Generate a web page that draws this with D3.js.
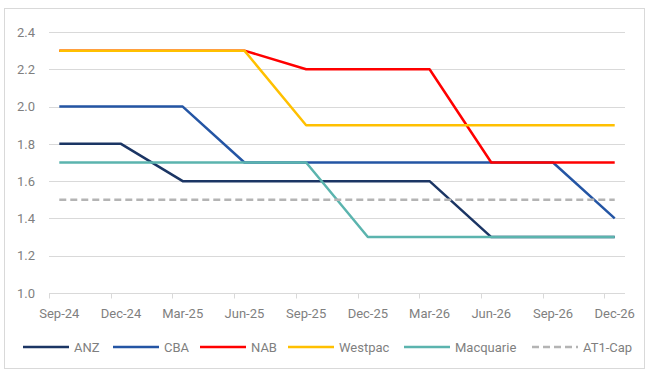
<!DOCTYPE html>
<html>
<head>
<meta charset="utf-8">
<script src="https://cdn.jsdelivr.net/npm/d3@7"></script>
<style>
body { margin: 0; background: #fff; }
text { font-family: Roboto, "Liberation Sans", sans-serif; }
</style>
</head>
<body>
<div id="chart-area"></div>
<script>
// quarterly data points
let quarters = ["Sep-24", "Dec-24", "Mar-25", "Jun-25", "Sep-25", "Dec-25", "Mar-26", "Jun-26", "Sep-26", "Dec-26"];
let anz = [1.8, 1.8, 1.6, 1.6, 1.6, 1.6, 1.6, 1.3, 1.3, 1.3];
let cba = [2.0, 2.0, 2.0, 1.7, 1.7, 1.7, 1.7, 1.7, 1.7, 1.4];
let nab = [2.3, 2.3, 2.3, 2.3, 2.2, 2.2, 2.2, 1.7, 1.7, 1.7];
let westpac = [2.3, 2.3, 2.3, 2.3, 1.9, 1.9, 1.9, 1.9, 1.9, 1.9];
let macquarie = [1.7, 1.7, 1.7, 1.7, 1.7, 1.3, 1.3, 1.3, 1.3, 1.3];
let at1Cap = [1.5, 1.5, 1.5, 1.5, 1.5, 1.5, 1.5, 1.5, 1.5, 1.5];
let yTicks = [1.0, 1.2, 1.4, 1.6, 1.8, 2.0, 2.2, 2.4];

let series = [
	{name: "ANZ", values: anz, color: "#1b3564", dash: null},
	{name: "CBA", values: cba, color: "#2455a4", dash: null},
	{name: "NAB", values: nab, color: "#ff0000", dash: null},
	{name: "Westpac", values: westpac, color: "#ffc000", dash: null},
	{name: "Macquarie", values: macquarie, color: "#5bb4ae", dash: null},
	{name: "AT1-Cap", values: at1Cap, color: "#b4b4b4", dash: "7,4"}
];

let W = 660, H = 377;
let svg = d3.select("#chart-area").append("svg")
	.attr("width", W)
	.attr("height", H);

// chart border
svg.append("rect")
	.attr("x", 4.5).attr("y", 8.5)
	.attr("width", 640).attr("height", 360)
	.attr("fill", "#fff")
	.attr("stroke", "#d9d9d9");

// date axis with monthly base unit, points in the middle of each month
let x = d3.scaleLinear()
	.domain([-0.5, 27.5])
	.range([49, 625]);

let y = d3.scaleLinear()
	.domain([1.0, 2.4])
	.range([293, 32]);

let textColor = "#7f7f7f";

// gridlines
svg.append("g")
	.selectAll("line")
	.data(yTicks.slice(1))
	.enter().append("line")
	.attr("x1", x(-0.5)).attr("x2", x(27.5))
	.attr("y1", d => Math.round(y(d)) + 0.5)
	.attr("y2", d => Math.round(y(d)) + 0.5)
	.attr("stroke", "#d9d9d9");

// y axis labels
let yAxis = svg.append("g")
	.attr("transform", "translate(" + x(-0.5) + ",0)")
	.call(d3.axisLeft(y).tickValues(yTicks).tickFormat(d3.format(".1f")).tickSize(0).tickPadding(14));
yAxis.select(".domain").remove();
yAxis.selectAll("text")
	.attr("fill", textColor)
	.style("font-size", "13px");

// x axis: ticks between quarters
let xAxisY = Math.round(y(1.0)) + 0.5;
svg.append("line")
	.attr("x1", x(-0.5)).attr("x2", x(27.5))
	.attr("y1", xAxisY).attr("y2", xAxisY)
	.attr("stroke", "#d9d9d9");

svg.append("g")
	.selectAll("line")
	.data(quarters)
	.enter().append("line")
	.attr("x1", (d, i) => Math.round(x(i * 3 - 0.5)) + 0.5)
	.attr("x2", (d, i) => Math.round(x(i * 3 - 0.5)) + 0.5)
	.attr("y1", xAxisY).attr("y2", xAxisY + 5)
	.attr("stroke", "#d9d9d9");

svg.append("g")
	.selectAll("text")
	.data(quarters)
	.enter().append("text")
	.attr("x", (d, i) => x(i * 3))
	.attr("y", 318)
	.attr("text-anchor", "middle")
	.attr("fill", textColor)
	.style("font-size", "13px")
	.text(d => d);

// lines
let line = d3.line()
	.x((d, i) => x(i * 3))
	.y(d => y(d));

svg.append("g")
	.selectAll("path")
	.data(series)
	.enter().append("path")
	.attr("d", d => line(d.values))
	.attr("fill", "none")
	.attr("stroke", d => d.color)
	.attr("stroke-width", 2.5)
	.attr("stroke-dasharray", d => d.dash)
	.attr("stroke-linejoin", "round");

// legend
let legendX = [23, 113, 200, 288, 404, 532];
let legend = svg.append("g")
	.selectAll("g")
	.data(series)
	.enter().append("g")
	.attr("transform", (d, i) => "translate(" + legendX[i] + ",347)");

legend.append("line")
	.attr("x1", 0).attr("x2", 46)
	.attr("stroke", d => d.color)
	.attr("stroke-width", 2.5)
	.attr("stroke-dasharray", d => d.dash);

legend.append("text")
	.attr("x", 51)
	.attr("y", 4.5)
	.attr("fill", textColor)
	.style("font-size", "13px")
	.text(d => d.name);
</script>
</body>
</html>
